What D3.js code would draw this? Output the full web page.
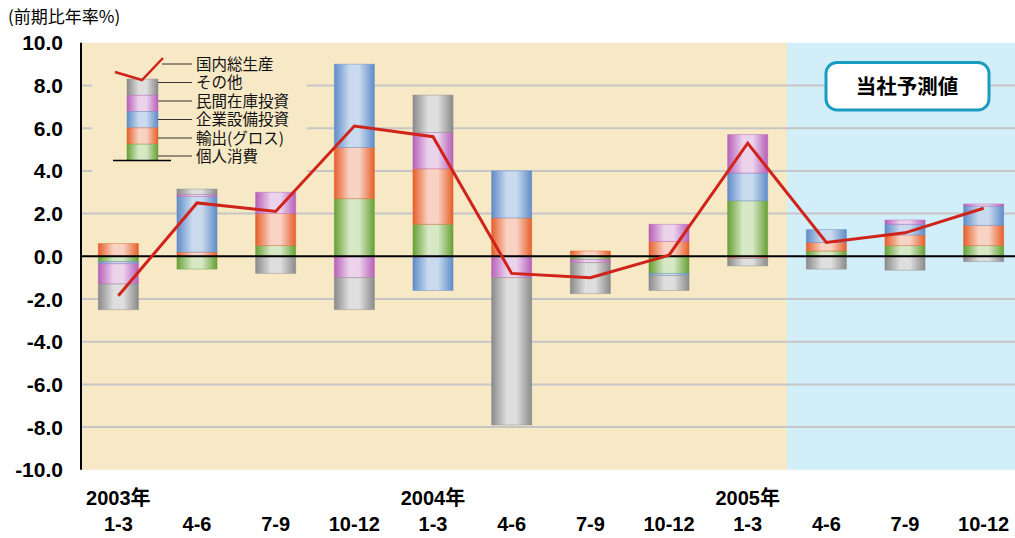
<!DOCTYPE html>
<html>
<head>
<meta charset="utf-8">
<script src="https://cdn.jsdelivr.net/npm/d3@7"></script>
<style>
  html, body { margin: 0; padding: 0; background: #ffffff; }
  svg { display: block; }
</style>
</head>
<body>
<svg id="chart" width="1015" height="538"></svg>
<script>
// Quarterly labels and year markers along the x axis
const quarters = ["1-3", "4-6", "7-9", "10-12", "1-3", "4-6", "7-9", "10-12", "1-3", "4-6", "7-9", "10-12"];
const yearLabels = ["2003年", "", "", "", "2004年", "", "", "", "2005年", "", "", ""];
const yTicks = [10, 8, 6, 4, 2, 0, -2, -4, -6, -8, -10];

// Contributions to real GDP growth (annualised q/q, %)
const consumption = [-0.25, -0.6, 0.5, 2.7, 1.5, 0.0, -0.15, -0.8, 2.6, 0.25, 0.5, 0.5];
const exportsGross = [0.6, 0.2, 1.5, 2.4, 2.6, 1.8, 0.25, 0.7, -0.1, 0.4, 0.5, 0.95];
const capex = [-0.1, 2.6, 0.0, 3.9, -1.6, 2.2, 0.0, -0.1, 1.3, 0.6, 0.5, 0.9];
const inventory = [-0.95, 0.1, 1.0, -1.0, 1.7, -1.0, -0.15, 0.8, 1.8, 0.0, 0.2, 0.1];
const other = [-1.2, 0.25, -0.8, -1.5, 1.75, -6.9, -1.45, -0.7, -0.35, -0.6, -0.65, -0.25];
const gdp = [-1.85, 2.5, 2.1, 6.1, 5.6, -0.8, -1.0, 0.05, 5.3, 0.65, 1.1, 2.25];

const seriesKeys = ["consumption", "exports", "capex", "inventory", "other"];
const seriesNames = {
  consumption: "個人消費", exports: "輸出(グロス)", capex: "企業設備投資",
  inventory: "民間在庫投資", other: "その他"
};
const seriesColors = {
  consumption: { edge: "#67a035", mid: "#d6e8c6" },
  exports:     { edge: "#e65f2b", mid: "#f8d3c4" },
  capex:       { edge: "#5f8cc8", mid: "#c9daee" },
  inventory:   { edge: "#b760b9", mid: "#ecd3ec" },
  other:       { edge: "#8a8a8a", mid: "#dedede" }
};
const forecastFrom = 9; // first forecast quarter index

const rows = quarters.map((q, i) => ({
  id: i, consumption: consumption[i], exports: exportsGross[i], capex: capex[i],
  inventory: inventory[i], other: other[i], gdp: gdp[i]
}));

const svg = d3.select("#chart");
const W = 1015;
const axisX = 81;

const x = d3.scaleBand().domain(rows.map(d => d.id)).range([79, 1023])
  .paddingInner(0.49).paddingOuter(0.245);
const y = d3.scaleLinear().domain([-10, 10]).range([469.8, 42.8]);
const cx = i => x(i) + x.bandwidth() / 2;

// gradients give the bars a rounded, cylinder-like shading
const defs = svg.append("defs");
seriesKeys.forEach(k => {
  const g = defs.append("linearGradient").attr("id", "grad-" + k)
    .attr("x1", "0%").attr("x2", "100%").attr("y1", "0%").attr("y2", "0%");
  const c = seriesColors[k];
  g.append("stop").attr("offset", "0%").attr("stop-color", c.edge);
  g.append("stop").attr("offset", "38%").attr("stop-color", c.mid);
  g.append("stop").attr("offset", "62%").attr("stop-color", c.mid);
  g.append("stop").attr("offset", "100%").attr("stop-color", c.edge);
});

// plot backgrounds: actual period and forecast period
const splitX = (x(forecastFrom - 1) + x.bandwidth() + x(forecastFrom)) / 2;
svg.append("rect").attr("x", axisX).attr("y", y(10)).attr("width", splitX - axisX)
  .attr("height", y(-10) - y(10)).attr("fill", "#f7e9c6");
svg.append("rect").attr("x", splitX).attr("y", y(10)).attr("width", W - splitX)
  .attr("height", y(-10) - y(10)).attr("fill", "#d2eef9");

// grid lines
svg.append("g").selectAll("line").data(yTicks.filter(t => t !== 0 && Math.abs(t) !== 10))
  .join("line")
  .attr("x1", axisX).attr("x2", W).attr("y1", d => y(d)).attr("y2", d => y(d))
  .attr("stroke", "#c6c6c6").attr("stroke-width", 2);

// legend backdrop hides the grid behind it
svg.append("rect").attr("x", 92).attr("y", 48).attr("width", 215).attr("height", 128)
  .attr("fill", "#f7e9c6");

// stacked bars (positive and negative parts stacked separately)
const stacked = d3.stack().keys(seriesKeys).offset(d3.stackOffsetDiverging)(rows);
const barG = svg.append("g");
stacked.forEach(layer => {
  const k = layer.key;
  barG.append("g").selectAll("rect").data(layer.filter(d => Math.abs(d[1] - d[0]) > 1e-9))
    .join("rect")
    .attr("x", d => x(d.data.id))
    .attr("width", x.bandwidth())
    .attr("y", d => y(Math.max(d[0], d[1])))
    .attr("height", d => Math.abs(y(d[0]) - y(d[1])))
    .attr("fill", "url(#grad-" + k + ")")
    .attr("stroke", seriesColors[k].edge)
    .attr("stroke-opacity", 0.55)
    .attr("stroke-width", 0.8);
});

// zero line and y axis line
svg.append("line").attr("x1", axisX).attr("x2", W).attr("y1", y(0)).attr("y2", y(0))
  .attr("stroke", "#000").attr("stroke-width", 2);
svg.append("line").attr("x1", axisX).attr("x2", axisX).attr("y1", y(10)).attr("y2", y(-10))
  .attr("stroke", "#000").attr("stroke-width", 2);

// GDP growth line
const line = d3.line().x(d => cx(d.id)).y(d => y(d.gdp));
svg.append("path").datum(rows).attr("d", line)
  .attr("fill", "none").attr("stroke", "#d0231a").attr("stroke-width", 3)
  .attr("stroke-linejoin", "miter");

// y axis labels
const numFont = "'Liberation Sans', Arial, 'Noto Sans CJK JP', sans-serif";
svg.append("g").selectAll("text").data(yTicks).join("text")
  .attr("x", 63).attr("y", d => y(d)).attr("dy", "0.36em")
  .attr("text-anchor", "end").attr("font-family", numFont)
  .attr("font-weight", "bold").attr("font-size", 21).attr("fill", "#000")
  .text(d => d.toFixed(1));

// unit caption
svg.append("text").attr("x", 8).attr("y", 23)
  .attr("font-family", "'Noto Sans CJK JP', sans-serif").attr("font-size", 17)
  .attr("fill", "#000").text("(前期比年率%)");

// x axis labels
svg.append("g").selectAll("text").data(rows).join("text")
  .attr("x", d => cx(d.id)).attr("y", 531).attr("text-anchor", "middle")
  .attr("font-family", numFont).attr("font-weight", "bold").attr("font-size", 20)
  .text(d => quarters[d.id]);
svg.append("g").selectAll("text").data(rows.filter(d => yearLabels[d.id])).join("text")
  .attr("x", d => cx(d.id)).attr("y", 505).attr("text-anchor", "middle")
  .attr("font-family", numFont).attr("font-weight", "bold").attr("font-size", 20)
  .text(d => yearLabels[d.id]);

// legend: a miniature bar with leader lines to each label
const lg = svg.append("g");
const legendOrder = ["other", "inventory", "capex", "exports", "consumption"];
const lgX = 127, lgW = 31, lgTop = 79, lgSeg = 16.3;
legendOrder.forEach((k, i) => {
  lg.append("rect").attr("x", lgX).attr("y", lgTop + i * lgSeg)
    .attr("width", lgW).attr("height", lgSeg)
    .attr("fill", "url(#grad-" + k + ")")
    .attr("stroke", seriesColors[k].edge).attr("stroke-opacity", 0.55).attr("stroke-width", 0.8);
});
lg.append("line").attr("x1", 113).attr("x2", 171)
  .attr("y1", lgTop + 5 * lgSeg).attr("y2", lgTop + 5 * lgSeg)
  .attr("stroke", "#000").attr("stroke-width", 1.5);
lg.append("path").attr("d", "M115,72L142,80L163,58")
  .attr("fill", "none").attr("stroke", "#d0231a").attr("stroke-width", 2.5);

// label rows are spaced a little wider than the miniature bar's segments
const labelRows = [64, 82.5, 101, 119.5, 138, 156];
const legendItems = [{ name: "国内総生産", ly: labelRows[0], x0: 162 }]
  .concat(legendOrder.map((k, i) => ({ name: seriesNames[k], ly: labelRows[i + 1], x0: lgX + lgW })));
legendItems.forEach(it => {
  lg.append("line").attr("x1", it.x0).attr("x2", 192).attr("y1", it.ly).attr("y2", it.ly)
    .attr("stroke", "#333").attr("stroke-width", 1);
  lg.append("text").attr("x", 196).attr("y", it.ly).attr("dy", "0.36em")
    .attr("font-family", "'Noto Sans CJK JP', sans-serif").attr("font-size", 15.5)
    .attr("fill", "#111").text(it.name);
});

// forecast tag
svg.append("rect").attr("x", 826).attr("y", 62.5).attr("width", 163).attr("height", 47.5)
  .attr("rx", 11).attr("ry", 11).attr("fill", "#ffffff")
  .attr("stroke", "#1a9cc0").attr("stroke-width", 3);
svg.append("text").attr("x", 907).attr("y", 86.5).attr("dy", "0.36em")
  .attr("text-anchor", "middle").attr("font-family", "'Noto Sans CJK JP', sans-serif")
  .attr("font-weight", "bold").attr("font-size", 20.5).attr("fill", "#000")
  .text("当社予測値");
</script>
</body>
</html>
